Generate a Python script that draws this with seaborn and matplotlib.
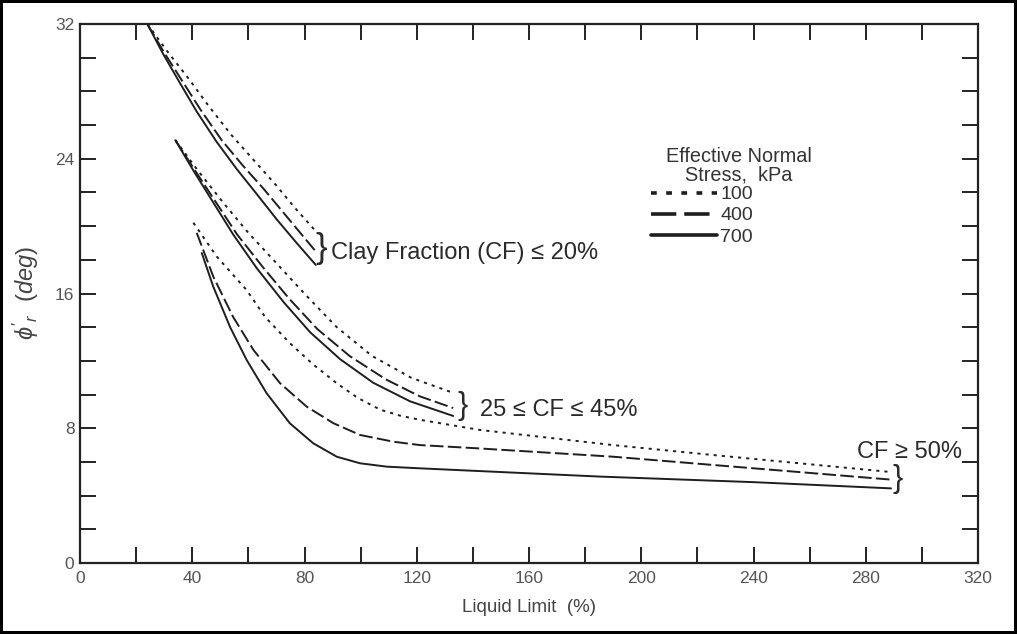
import numpy as np
import pandas as pd
import matplotlib
matplotlib.use("Agg")
import matplotlib.pyplot as plt
import seaborn as sns
from matplotlib.ticker import MultipleLocator

sns.set_theme(style="white")
plt.rcParams['font.family'] = ['Liberation Sans', 'DejaVu Sans']
plt.rcParams['mathtext.fontset'] = 'custom'
plt.rcParams['mathtext.it'] = 'Liberation Sans:italic'
plt.rcParams['mathtext.rm'] = 'Liberation Sans'

stress_levels = ["100", "400", "700"]

# Group 1: Clay Fraction <= 20%
g1_100_x = [24, 31, 38.5, 46, 54, 62, 69.5, 76.5, 84]
g1_100_y = [32, 30.4, 28.8, 27.1, 25.4, 23.9, 22.5, 21.1, 19.7]
g1_400_x = [24, 30, 36.5, 43, 50.5, 58, 65.5, 72.5, 78.5, 84]
g1_400_y = [32, 30.3, 28.6, 26.9, 25.1, 23.6, 22.2, 20.8, 19.6, 18.5]
g1_700_x = [24, 29.7, 35.6, 41.6, 48.7, 55.8, 63, 70.1, 77.2, 84]
g1_700_y = [32, 30.2, 28.5, 26.8, 25.0, 23.4, 21.9, 20.4, 19.0, 17.7]

# Group 2: 25 <= CF <= 45%
g2_100_x = [34, 42, 51, 60, 70, 80.5, 91.5, 104, 118, 133]
g2_100_y = [25.1, 23.3, 21.4, 19.6, 17.8, 15.9, 14.0, 12.3, 11.0, 10.1]
g2_400_x = [34, 41, 48.5, 56, 65, 74.5, 84.5, 96, 109, 121, 133]
g2_400_y = [25.1, 23.3, 21.4, 19.5, 17.6, 15.7, 13.9, 12.3, 10.9, 9.9, 9.2]
g2_700_x = [34, 40.4, 47.5, 54.6, 63, 72.5, 82, 92.7, 104.5, 117.6, 133]
g2_700_y = [25.1, 23.3, 21.4, 19.5, 17.5, 15.5, 13.7, 12.1, 10.7, 9.6, 8.73]

# Group 3: CF >= 50%
g3_100_x = [40.4, 48.7, 59.4, 66, 74.8, 83, 91.5, 99, 107, 114, 121.2, 142.5, 190, 225.6, 289]
g3_100_y = [20.2, 18.2, 16.2, 14.6, 13.05, 11.8, 10.67, 9.8, 9.1, 8.75, 8.5, 7.9, 7.0, 6.41, 5.4]
g3_400_x = [41.6, 47.5, 54.6, 61.8, 71.3, 80.8, 90.3, 99.8, 111.7, 121.2, 142.5, 190, 225.6, 289]
g3_400_y = [19.6, 17.0, 14.6, 12.65, 10.67, 9.28, 8.3, 7.6, 7.2, 7.0, 6.8, 6.31, 5.82, 4.95]
g3_700_x = [43.4, 47.5, 53.5, 59.4, 66.5, 74.8, 83.1, 91.5, 99.8, 109.3, 121.2, 185.3, 240, 289]
g3_700_y = [18.4, 16.4, 14.0, 12.05, 10.08, 8.29, 7.11, 6.31, 5.92, 5.72, 5.62, 5.13, 4.8, 4.43]

x_ticks = [0, 40, 80, 120, 160, 200, 240, 280, 320]
y_ticks = [0, 8, 16, 24, 32]

group_labels = ["Clay Fraction (CF) \u2264 20%", "25 \u2264 CF \u2264 45%", "CF \u2265 50%"]
legend_title = "Effective Normal\nStress,  kPa"

def group_df(g, xs, ys):
    rows = []
    for s, xv, yv in zip(stress_levels, xs, ys):
        for i, (a, b) in enumerate(zip(xv, yv)):
            rows.append({"group": g, "stress": s, "order": i, "LL": a, "phi": b})
    return pd.DataFrame(rows)

df = pd.concat([
    group_df("g1", [g1_100_x, g1_400_x, g1_700_x], [g1_100_y, g1_400_y, g1_700_y]),
    group_df("g2", [g2_100_x, g2_400_x, g2_700_x], [g2_100_y, g2_400_y, g2_700_y]),
    group_df("g3", [g3_100_x, g3_400_x, g3_700_x], [g3_100_y, g3_400_y, g3_700_y]),
], ignore_index=True)

fig = plt.figure(figsize=(10.17, 6.34), dpi=100)
ax = fig.add_axes([80/1017, 1 - 563/634, (978-80)/1017, (563-24)/634])

dash_map = {"100": (1.6, 2.6), "400": (7, 2.2), "700": ""}
lc = "#1e1e1e"
for i, g in enumerate(["g1", "g2", "g3"]):
    sns.lineplot(data=df[df.group == g], x="LL", y="phi", style="stress",
                 units="stress", estimator=None, sort=False,
                 style_order=stress_levels, dashes=dash_map,
                 color=lc, linewidth=1.4, ax=ax, legend=(i == 0))

ax.set_xlim(0, 320)
ax.set_ylim(0, 32)
ax.set_xticks(x_ticks)
ax.set_yticks(y_ticks)
ax.xaxis.set_minor_locator(MultipleLocator(20))
ax.yaxis.set_minor_locator(MultipleLocator(2))
tick_col = "#555555"
ax.tick_params(which="both", direction="in", length=11.5, width=1.4,
               top=True, right=True, bottom=True, left=True, color="#222222",
               labelsize=12.5, labelcolor=tick_col)
ax.tick_params(axis="x", pad=6)
ax.tick_params(axis="y", pad=4)
for sp in ax.spines.values():
    sp.set_linewidth(1.6)
    sp.set_color("#222222")

ax.set_xlabel("Liquid Limit  (%)", fontsize=13.5, color="#444444", labelpad=9)
ax.set_ylabel(r"$\phi'_r$  $(deg)$", fontsize=17, color="#444444", labelpad=10)

# Legend
leg = ax.legend(frameon=False, loc="upper left", bbox_to_anchor=(0.636, 0.70),
                fontsize=14, handlelength=3.4, handletextpad=0.15,
                labelspacing=0.18, borderpad=0.0, borderaxespad=0.0)
for t in leg.get_texts():
    t.set_color("#333333")
for h in leg.get_lines():
    h.set_linewidth(2.6)
ax.text(0.734, 0.737, legend_title, transform=ax.transAxes, ha="center",
        va="center", fontsize=14.3, color="#333333", linespacing=0.95)

# Braces and labels
txt_col = "#2a2a2a"
ax.text(86.0, 18.7, "}", fontsize=25, va="center", ha="center", color=txt_col)
ax.text(89.5, 18.4, group_labels[0], fontsize=17, va="center", ha="left", color=txt_col)
ax.text(136.3, 9.3, "}", fontsize=22, va="center", ha="center", color=txt_col)
ax.text(142.5, 9.1, group_labels[1], fontsize=17, va="center", ha="left", color=txt_col)
ax.text(291.5, 5.0, "}", fontsize=22, va="center", ha="center", color=txt_col)
ax.text(277.0, 6.6, group_labels[2], fontsize=17, va="center", ha="left", color=txt_col)

fig.patch.set_edgecolor("black")
fig.patch.set_linewidth(3)
fig.savefig("out.png", dpi=100, edgecolor=fig.get_edgecolor())
